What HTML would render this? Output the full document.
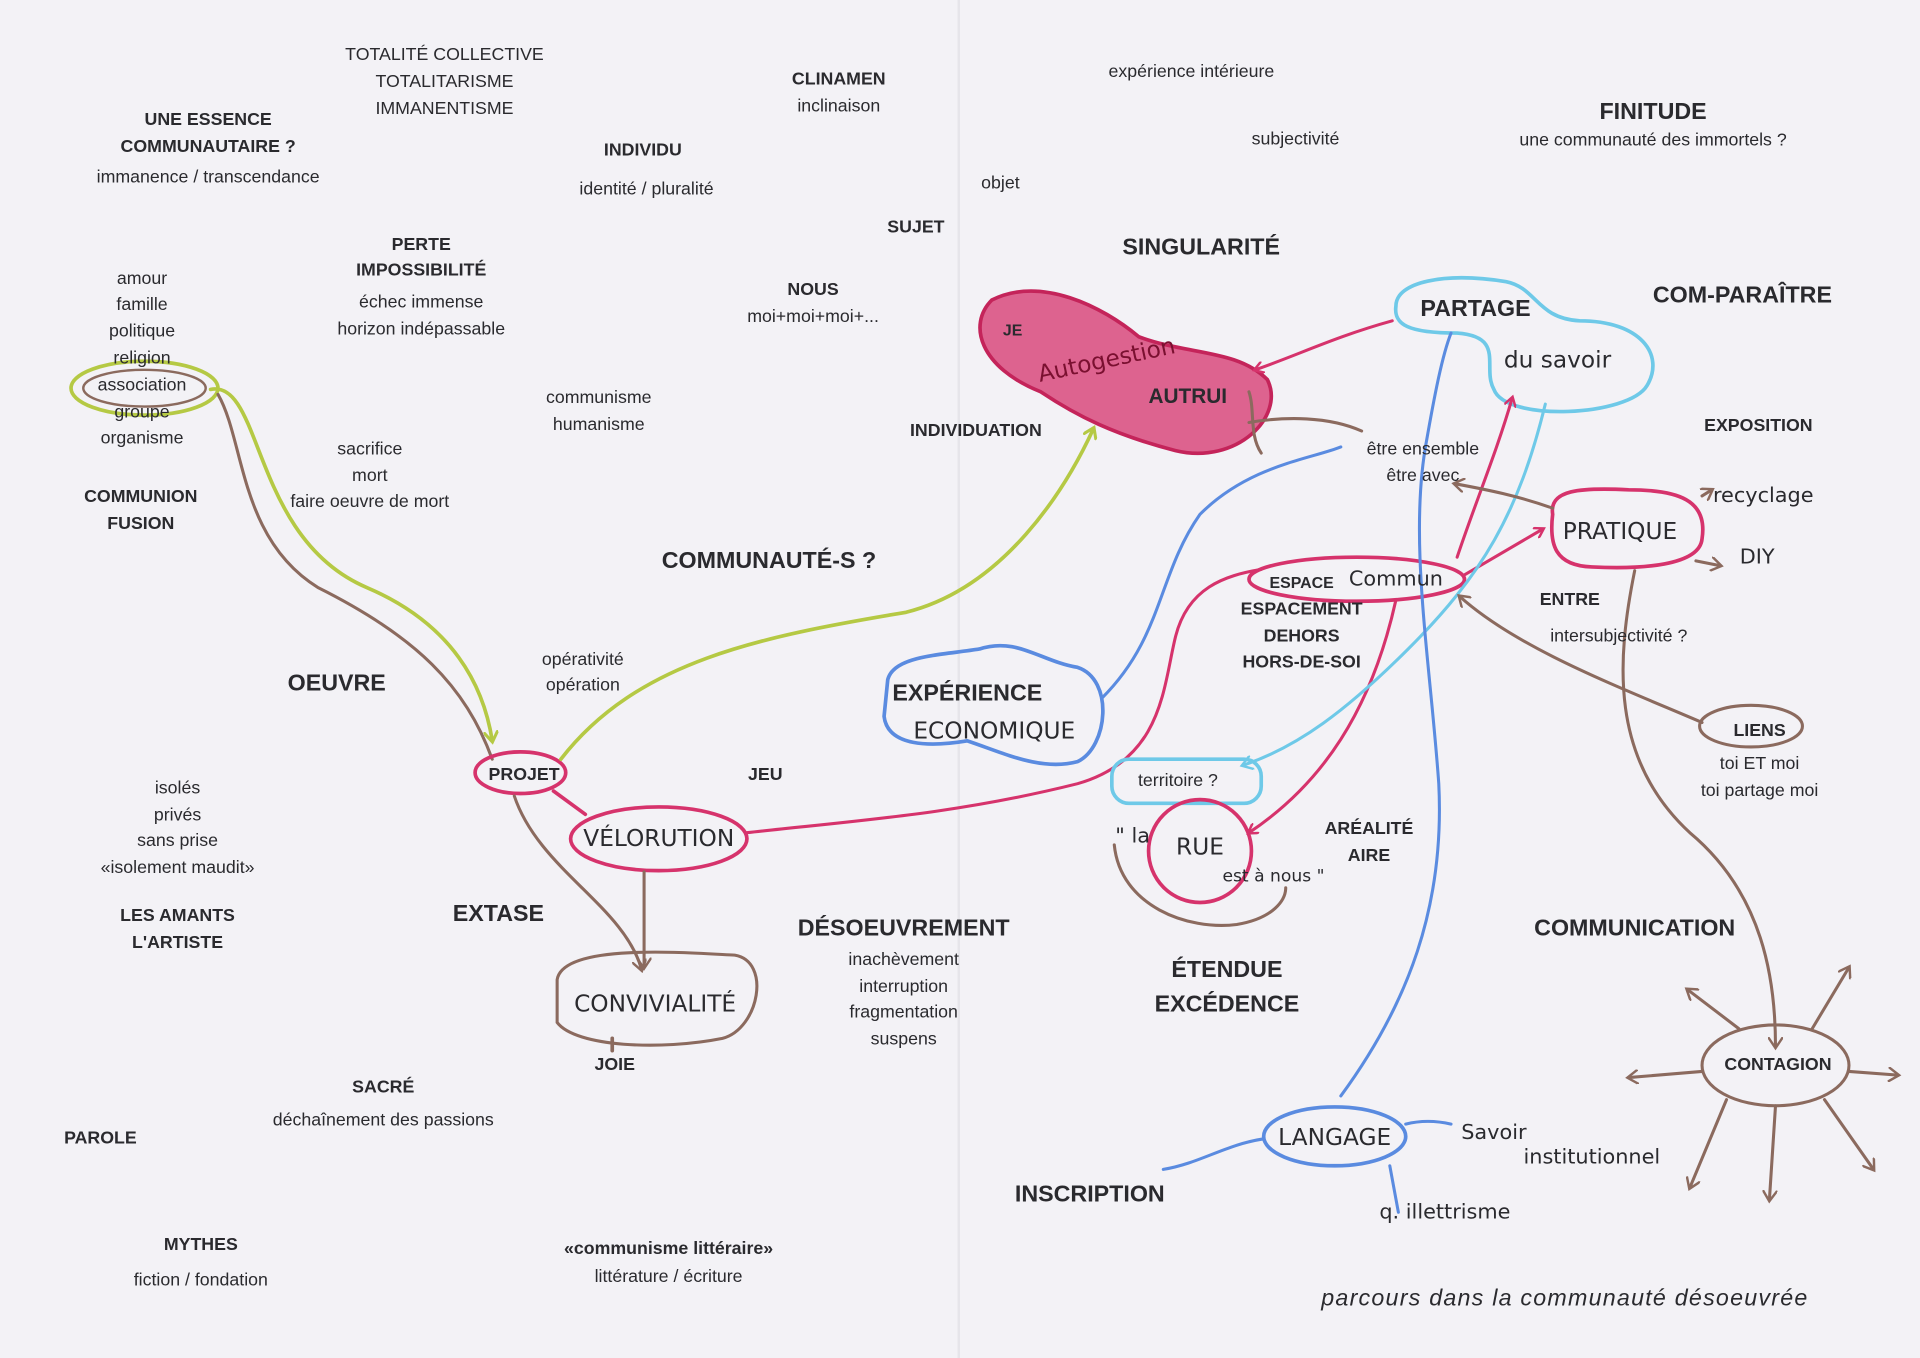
<!DOCTYPE html>
<html><head><meta charset="utf-8"><style>
html,body{margin:0;padding:0;background:#f3f2f6;}
svg{display:block}
text{font-family:"Liberation Sans",sans-serif;fill:#2a2a2e;font-size:14.5px;text-anchor:middle}
.b{font-weight:bold}
.L{font-weight:bold;font-size:19px}
.h{font-family:"DejaVu Sans",sans-serif;font-size:19px}
</style></head><body>
<svg width="1920" height="1358" viewBox="0 0 1568 1109" preserveAspectRatio="none" xmlns="http://www.w3.org/2000/svg">
<defs>
<marker id="ap" markerWidth="10" markerHeight="10" refX="7" refY="5" orient="auto" markerUnits="userSpaceOnUse"><path d="M0,0 L8,5 L0,10" fill="none" stroke="#d6336c" stroke-width="2"/></marker>
<marker id="ab" markerWidth="12" markerHeight="12" refX="8" refY="6" orient="auto" markerUnits="userSpaceOnUse"><path d="M0,0 L9,6 L0,12" fill="none" stroke="#8b6a5e" stroke-width="2"/></marker>
<marker id="ag" markerWidth="12" markerHeight="12" refX="8" refY="6" orient="auto" markerUnits="userSpaceOnUse"><path d="M0,0 L9,6 L0,12" fill="none" stroke="#b5c944" stroke-width="2.5"/></marker>
<marker id="al" markerWidth="12" markerHeight="12" refX="8" refY="6" orient="auto" markerUnits="userSpaceOnUse"><path d="M0,0 L9,6 L0,12" fill="none" stroke="#6ec9e8" stroke-width="2"/></marker>
</defs>
<line x1="783" y1="0" x2="783" y2="1109" stroke="#e6e5ea" stroke-width="2"/>
<g fill="none" stroke-width="3" stroke-linecap="round">
<!-- association loops -->
<ellipse cx="118" cy="317" rx="60" ry="22" stroke="#b5c944"/>
<ellipse cx="118" cy="317" rx="50" ry="15" stroke="#8b6a5e" stroke-width="2"/>
<path d="M172,318 C215,310 205,440 300,480 C370,510 395,560 402,605" stroke="#b5c944" marker-end="url(#ag)"/>
<path d="M178,322 C200,360 195,440 260,480 C340,520 380,560 402,620" stroke="#8b6a5e" stroke-width="2.5"/>
<!-- projet -->
<ellipse cx="425" cy="631" rx="37" ry="17" stroke="#d6336c"/>
<path d="M458,620 C520,540 620,520 740,500 C820,480 870,400 893,350" stroke="#b5c944" marker-end="url(#ag)"/>
<path d="M452,646 L478,665" stroke="#d6336c"/>
<ellipse cx="538" cy="685" rx="72" ry="26" stroke="#d6336c"/>
<path d="M420,650 C440,710 510,740 524,792" stroke="#8b6a5e" stroke-width="2.5" marker-end="url(#ab)"/>
<path d="M526,712 L526,790" stroke="#8b6a5e" stroke-width="2.5" marker-end="url(#ab)"/>
<path d="M455,800 C460,770 560,778 600,780 C630,785 620,840 590,848 C540,858 470,855 455,835 Z" stroke="#8b6a5e" stroke-width="2.5"/>
<path d="M500,848 L500,858" stroke="#8b6a5e"/>
<!-- long pink -->
<path d="M610,680 C700,670 780,665 880,640 C950,620 950,560 960,520 C970,480 1000,470 1030,465" stroke="#d6336c" stroke-width="2.5"/>
<!-- autrui blob -->
<path d="M810,245 C850,225 900,250 930,275 C970,290 1010,285 1035,310 C1050,340 1010,380 960,368 C910,355 880,340 850,320 C800,300 790,265 810,245 Z" fill="#d6336c" fill-opacity="0.75" stroke="#c4245a"/>
<!-- partage cloud -->
<path d="M1140,250 C1140,230 1180,222 1230,230 C1255,235 1255,260 1290,262 C1340,262 1360,290 1345,315 C1330,340 1230,345 1220,318 C1210,300 1230,275 1190,272 C1150,272 1138,265 1140,250 Z" stroke="#6ec9e8"/>
<path d="M1137,262 C1090,275 1060,290 1025,302" stroke="#d6336c" stroke-width="2.5" marker-end="url(#ap)"/>
<path d="M1020,345 C1050,340 1085,340 1112,352" stroke="#8b6a5e" stroke-width="2.5"/>
<path d="M1020,320 C1025,335 1020,355 1030,370" stroke="#8b6a5e" stroke-width="2.5"/>
<!-- espace commun -->
<ellipse cx="1108" cy="473" rx="88" ry="18" stroke="#d6336c"/>
<path d="M1190,455 C1205,410 1222,370 1235,325" stroke="#d6336c" stroke-width="2.5" marker-end="url(#ap)"/>
<path d="M1195,470 L1260,432" stroke="#d6336c" stroke-width="2.5" marker-end="url(#ap)"/>
<path d="M1140,490 C1120,580 1080,640 1020,680" stroke="#d6336c" stroke-width="2.5" marker-end="url(#ap)"/>
<path d="M1262,330 C1240,420 1210,470 1150,530 C1100,580 1060,610 1015,625" stroke="#6ec9e8" stroke-width="2.5" marker-end="url(#al)"/>
<!-- experience economique -->
<path d="M725,555 C730,535 770,535 800,530 C830,520 850,540 880,545 C910,555 905,610 880,622 C850,630 820,615 790,605 C760,610 725,610 722,585 Z" stroke="#5a8be0"/>
<path d="M900,570 C950,520 945,470 980,420 C1020,380 1070,375 1095,365" stroke="#5a8be0" stroke-width="2.5"/>
<!-- langage blue -->
<path d="M1095,895 C1150,820 1180,740 1175,640 C1168,540 1150,440 1165,360 C1172,320 1178,290 1185,272" stroke="#5a8be0" stroke-width="2.5"/>
<ellipse cx="1090" cy="928" rx="58" ry="24" stroke="#5a8be0"/>
<path d="M1032,930 C1000,935 980,950 950,955" stroke="#5a8be0" stroke-width="2.5"/>
<path d="M1148,918 C1160,915 1172,915 1185,918" stroke="#5a8be0" stroke-width="2.5"/>
<path d="M1135,952 L1142,990" stroke="#5a8be0" stroke-width="2.5"/>
<!-- pratique -->
<path d="M1268,420 C1265,400 1290,398 1330,400 C1370,400 1395,408 1390,440 C1388,462 1340,465 1300,463 C1270,462 1265,445 1268,420 Z" stroke="#d6336c"/>
<path d="M1390,405 L1398,400" stroke="#8b6a5e" stroke-width="2.5" marker-end="url(#ab)"/>
<path d="M1385,458 L1405,462" stroke="#8b6a5e" stroke-width="2.5" marker-end="url(#ab)"/>
<path d="M1268,415 C1240,405 1215,400 1188,395" stroke="#8b6a5e" stroke-width="2.5" marker-end="url(#ab)"/>
<path d="M1335,466 C1320,540 1315,620 1380,680 C1440,730 1450,800 1450,855" stroke="#8b6a5e" stroke-width="2.5" marker-end="url(#ab)"/>
<!-- liens -->
<ellipse cx="1430" cy="593" rx="42" ry="17" stroke="#8b6a5e" stroke-width="2.5"/>
<path d="M1390,590 C1320,560 1240,530 1192,487" stroke="#8b6a5e" stroke-width="2.5" marker-end="url(#ab)"/>
<!-- territoire / rue -->
<rect x="908" y="620" width="122" height="36" rx="14" stroke="#6ec9e8"/>
<circle cx="980" cy="695" r="42" stroke="#d6336c"/>
<path d="M910,690 C915,740 970,760 1010,755 C1040,750 1050,735 1050,725" stroke="#8b6a5e" stroke-width="2.5"/>
<!-- contagion -->
<ellipse cx="1450" cy="870" rx="60" ry="33" stroke="#8b6a5e" stroke-width="2.5"/>
<g stroke="#8b6a5e" stroke-width="2.5">
<path d="M1420,840 L1378,808" marker-end="url(#ab)"/>
<path d="M1480,840 L1510,790" marker-end="url(#ab)"/>
<path d="M1390,875 L1330,880" marker-end="url(#ab)"/>
<path d="M1510,875 L1550,878" marker-end="url(#ab)"/>
<path d="M1410,898 L1380,970" marker-end="url(#ab)"/>
<path d="M1450,903 L1445,980" marker-end="url(#ab)"/>
<path d="M1490,898 L1530,955" marker-end="url(#ab)"/>
</g>
</g>

<text x="363" y="49">TOTALITÉ COLLECTIVE</text><text x="363" y="71">TOTALITARISME</text><text x="363" y="93">IMMANENTISME</text>
<text x="170" y="102" class="b">UNE ESSENCE</text><text x="170" y="124" class="b">COMMUNAUTAIRE ?</text><text x="170" y="149">immanence / transcendance</text>
<text x="685" y="69" class="b">CLINAMEN</text><text x="685" y="91">inclinaison</text>
<text x="973" y="63">expérience intérieure</text>
<text x="1350" y="97" class="L">FINITUDE</text><text x="1350" y="119">une communauté des immortels ?</text>
<text x="525" y="127" class="b">INDIVIDU</text><text x="528" y="159">identité / pluralité</text>
<text x="1058" y="118">subjectivité</text>
<text x="817" y="154">objet</text>
<text x="748" y="190" class="b">SUJET</text>
<text x="981" y="208" class="L">SINGULARITÉ</text>
<text x="1423" y="247" class="L">COM-PARAÎTRE</text>
<text x="344" y="204" class="b">PERTE</text><text x="344" y="225" class="b">IMPOSSIBILITÉ</text><text x="344" y="251">échec immense</text><text x="344" y="273">horizon indépassable</text>
<text x="664" y="241" class="b">NOUS</text><text x="664" y="263">moi+moi+moi+...</text>
<text x="116" y="232">amour</text><text x="116" y="253">famille</text><text x="116" y="275">politique</text><text x="116" y="297">religion</text><text x="116" y="319">association</text><text x="116" y="341">groupe</text><text x="116" y="362">organisme</text>
<text x="489" y="329">communisme</text><text x="489" y="351">humanisme</text>
<text x="827" y="274" class="b" style="font-size:13px">JE</text>
<text x="905" y="300" class="h" style="fill:#7a1030" transform="rotate(-12 905 300)">Autogestion</text>
<text x="970" y="329" class="L" style="font-size:17px">AUTRUI</text>
<text x="1436" y="352" class="b">EXPOSITION</text>
<text x="797" y="356" class="b">INDIVIDUATION</text>
<text x="1205" y="258" class="L">PARTAGE</text>
<text x="1272" y="300" class="h">du savoir</text>
<text x="1162" y="371">être ensemble</text><text x="1162" y="393">être avec</text>
<text x="302" y="371">sacrifice</text><text x="302" y="393">mort</text><text x="302" y="414">faire oeuvre de mort</text>
<text x="115" y="410" class="b">COMMUNION</text><text x="115" y="432" class="b">FUSION</text>
<text x="628" y="464" class="L">COMMUNAUTÉ-S ?</text>
<text x="1323" y="440" class="h">PRATIQUE</text>
<text x="1440" y="410" class="h" style="font-size:17px">recyclage</text>
<text x="1435" y="460" class="h" style="font-size:17px">DIY</text>
<text x="1063" y="480" class="b" style="font-size:13px">ESPACE</text>
<text x="1140" y="478" class="h" style="font-size:17px">Commun</text>
<text x="1282" y="494" class="b">ENTRE</text><text x="1322" y="524">intersubjectivité ?</text>
<text x="1063" y="502" class="b">ESPACEMENT</text><text x="1063" y="524" class="b">DEHORS</text><text x="1063" y="545" class="b">HORS-DE-SOI</text>
<text x="476" y="543">opérativité</text><text x="476" y="564">opération</text>
<text x="275" y="564" class="L">OEUVRE</text>
<text x="790" y="572" class="L">EXPÉRIENCE</text>
<text x="812" y="603" class="h">ECONOMIQUE</text>
<text x="1437" y="601" class="b">LIENS</text><text x="1437" y="628">toi ET moi</text><text x="1437" y="650">toi partage moi</text>
<text x="428" y="637" class="b">PROJET</text>
<text x="625" y="637" class="b">JEU</text>
<text x="962" y="642">territoire ?</text>
<text x="538" y="691" class="h">VÉLORUTION</text>
<text x="980" y="698" class="h">RUE</text>
<text x="925" y="688" class="h" style="font-size:17px">" la</text>
<text x="1040" y="720" class="h" style="font-size:14px">est à nous "</text>
<text x="145" y="648">isolés</text><text x="145" y="670">privés</text><text x="145" y="691">sans prise</text><text x="145" y="713">«isolement maudit»</text>
<text x="1118" y="681" class="b">ARÉALITÉ</text><text x="1118" y="703" class="b">AIRE</text>
<text x="145" y="752" class="b">LES AMANTS</text><text x="145" y="774" class="b">L'ARTISTE</text>
<text x="407" y="752" class="L">EXTASE</text>
<text x="738" y="764" class="L">DÉSOEUVREMENT</text><text x="738" y="788">inachèvement</text><text x="738" y="810">interruption</text><text x="738" y="831">fragmentation</text><text x="738" y="853">suspens</text>
<text x="1335" y="764" class="L">COMMUNICATION</text>
<text x="1002" y="798" class="L">ÉTENDUE</text><text x="1002" y="826" class="L">EXCÉDENCE</text>
<text x="535" y="826" class="h">CONVIVIALITÉ</text>
<text x="502" y="874" class="b">JOIE</text>
<text x="1452" y="874" class="b">CONTAGION</text>
<text x="313" y="892" class="b">SACRÉ</text><text x="313" y="919">déchaînement des passions</text>
<text x="82" y="934" class="b">PAROLE</text>
<text x="1090" y="935" class="h">LANGAGE</text>
<text x="1220" y="930" class="h" style="font-size:17px">Savoir</text>
<text x="1300" y="950" class="h" style="font-size:17px">institutionnel</text>
<text x="1180" y="995" class="h" style="font-size:17px">q. illettrisme</text>
<text x="890" y="981" class="L">INSCRIPTION</text>
<text x="164" y="1021" class="b">MYTHES</text><text x="164" y="1050">fiction / fondation</text>
<text x="546" y="1024" class="b">«communisme littéraire»</text><text x="546" y="1047">littérature / écriture</text>
<text x="1278" y="1066" style="font-style:italic;font-size:19px;letter-spacing:1px">parcours dans la communauté désoeuvrée</text>
</svg>
</body></html>
